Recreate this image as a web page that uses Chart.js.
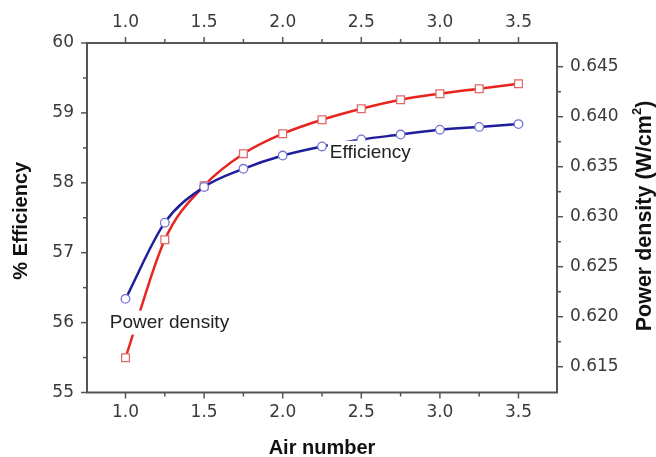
<!DOCTYPE html>
<html><head><meta charset="utf-8">
<script src="https://cdn.jsdelivr.net/npm/chart.js@4.4.0/dist/chart.umd.min.js"></script>
<style>html,body{margin:0;padding:0;background:#fff;}canvas{display:block;}</style>
</head><body>
<canvas id="c" width="656" height="457"></canvas>
<script>
// ---- data ----
const airNumber    = [1.0, 1.25, 1.5, 1.75, 2.0, 2.25, 2.5, 2.75, 3.0, 3.25, 3.5];
const efficiency   = [56.34, 57.43, 57.94, 58.20, 58.39, 58.52, 58.62, 58.69, 58.76, 58.80, 58.84];
const powerDensity = [0.6159, 0.6277, 0.6331, 0.6363, 0.6383, 0.6397, 0.6408, 0.6417, 0.6423, 0.6428, 0.6433];
const xTicks   = [1.0, 1.5, 2.0, 2.5, 3.0, 3.5];
const xMinor   = [1.25, 1.75, 2.25, 2.75, 3.25];
const effTicks = [55, 56, 57, 58, 59, 60];
const effMinor = [55.5, 56.5, 57.5, 58.5, 59.5];
const pdTicks  = [0.615, 0.620, 0.625, 0.630, 0.635, 0.640, 0.645];
const pdMinor  = [0.6175, 0.6225, 0.6275, 0.6325, 0.6375, 0.6425];
const xTitle = 'Air number';
const effTitle = '% Efficiency';
const pdTitle = 'Power density (W/cm';
const labels = [
  {text: 'Power density', x: 0.90, y: 56.0},
  {text: 'Efficiency', x: 2.30, y: 58.43}
];

// ---- style ----
const AXIS = '#555555';
const TICKCOL = '#3a3a3a';
const tickFont = {family: 'DejaVu Sans', size: 17};
const BLUE = '#1e1e9c', BLUE_PT = '#7474d4';
const RED = '#e8241e', RED_PT = '#e06a6a';

function fixTicks(arr) { return s => { s.ticks = arr.map(v => ({value: v})); }; }
const baseAxis = {
  type: 'linear',
  grid: {display: false, drawTicks: false},
  border: {display: false},
};

const annot = {
  id: 'annot',
  afterDatasetsDraw(chart) {
    const {ctx, scales} = chart;
    ctx.save();
    ctx.font = '19px "Liberation Sans", Arial, sans-serif';
    ctx.textBaseline = 'middle';
    ctx.textAlign = 'left';
    labels.forEach(l => {
      const px = scales.x.getPixelForValue(l.x);
      const py = scales.y.getPixelForValue(l.y);
      const w = ctx.measureText(l.text).width;
      ctx.fillStyle = '#fff';
      ctx.fillRect(px - 2, py - 12, w + 4, 24);
      ctx.fillStyle = '#222';
      ctx.fillText(l.text, px, py);
    });
    ctx.restore();
  },
  afterDraw(chart) {
    const {ctx, chartArea: a, scales} = chart;
    ctx.save();
    ctx.strokeStyle = AXIS;
    ctx.lineWidth = 2;
    ctx.strokeRect(a.left, a.top, a.right - a.left, a.bottom - a.top);
    ctx.lineWidth = 1.5;
    const line = (x1, y1, x2, y2) => { ctx.beginPath(); ctx.moveTo(x1, y1); ctx.lineTo(x2, y2); ctx.stroke(); };
    [[xTicks, 6], [xMinor, 4]].forEach(([arr, len]) => arr.forEach(v => {
      const p = scales.x.getPixelForValue(v);
      line(p, a.bottom, p, a.bottom + len);
      const q = scales.x2.getPixelForValue(v);
      line(q, a.top, q, a.top - len);
    }));
    [[effTicks, 6], [effMinor, 4]].forEach(([arr, len]) => arr.forEach(v => {
      const p = scales.y.getPixelForValue(v);
      line(a.left, p, a.left - len, p);
    }));
    [[pdTicks, 6], [pdMinor, 4]].forEach(([arr, len]) => arr.forEach(v => {
      const p = scales.y2.getPixelForValue(v);
      line(a.right, p, a.right + len, p);
    }));
    // titles
    ctx.fillStyle = '#111';
    ctx.font = 'bold 20px "Liberation Sans", Arial, sans-serif';
    ctx.textBaseline = 'middle';
    ctx.textAlign = 'center';
    ctx.fillText(xTitle, (a.left + a.right) / 2, 448);
    ctx.save();
    ctx.translate(21, (a.top + a.bottom) / 2 + 3);
    ctx.rotate(-Math.PI / 2);
    ctx.fillText(effTitle, 0, 0);
    ctx.restore();
    // right title with superscript
    const mainFont = 'bold 21.5px "Liberation Sans", Arial, sans-serif';
    const supFont = 'bold 13px "Liberation Sans", Arial, sans-serif';
    ctx.save();
    ctx.translate(645, 216);
    ctx.rotate(-Math.PI / 2);
    ctx.font = mainFont;
    const w1 = ctx.measureText(pdTitle).width;
    const w3 = ctx.measureText(')').width;
    ctx.font = supFont;
    const w2 = ctx.measureText('2').width;
    const tot = w1 + w2 + w3;
    ctx.textAlign = 'left';
    const x0 = -tot / 2;
    ctx.font = mainFont;
    ctx.fillText(pdTitle, x0, 0);
    ctx.fillText(')', x0 + w1 + w2, 0);
    ctx.font = supFont;
    ctx.fillText('2', x0 + w1, -8);
    ctx.restore();
    ctx.restore();
  }
};

new Chart(document.getElementById('c'), {
  type: 'line',
  data: {
    datasets: [
      {
        label: 'Efficiency',
        data: airNumber.map((x, i) => ({x, y: efficiency[i]})),
        xAxisID: 'x', yAxisID: 'y',
        borderColor: BLUE, borderWidth: 2.5,
        pointStyle: 'circle', pointRadius: 4.3, pointBorderWidth: 1.3,
        pointBorderColor: BLUE_PT, pointBackgroundColor: '#fff',
        cubicInterpolationMode: 'monotone', fill: false
      },
      {
        label: 'Power density',
        data: airNumber.map((x, i) => ({x, y: powerDensity[i]})),
        xAxisID: 'x', yAxisID: 'y2',
        borderColor: RED, borderWidth: 2.5,
        pointStyle: 'rect', pointRadius: 5.5, pointBorderWidth: 1.3,
        pointBorderColor: RED_PT, pointBackgroundColor: '#fff',
        cubicInterpolationMode: 'monotone', fill: false
      }
    ]
  },
  options: {
    responsive: false,
    animation: false,
    devicePixelRatio: 1,
    layout: {padding: 0},
    plugins: {legend: {display: false}, tooltip: {enabled: false}},
    scales: {
      x: Object.assign({}, baseAxis, {
        axis: 'x', position: 'bottom', min: 0.755, max: 3.745,
        afterBuildTicks: fixTicks(xTicks), afterFit: s => { s.height = 64.5; },
        ticks: {padding: 10, font: tickFont, color: TICKCOL, maxRotation: 0, autoSkip: false, callback: v => v.toFixed(1)}
      }),
      x2: Object.assign({}, baseAxis, {
        axis: 'x', position: 'top', min: 0.755, max: 3.745, display: true,
        afterBuildTicks: fixTicks(xTicks), afterFit: s => { s.height = 43; },
        ticks: {padding: 10, font: tickFont, color: TICKCOL, maxRotation: 0, autoSkip: false, callback: v => v.toFixed(1)}
      }),
      y: Object.assign({}, baseAxis, {
        axis: 'y', position: 'left', min: 55, max: 60,
        afterBuildTicks: fixTicks(effTicks), afterFit: s => { s.width = 87; },
        ticks: {padding: 13, font: tickFont, color: TICKCOL, autoSkip: false, callback: v => String(v)}
      }),
      y2: Object.assign({}, baseAxis, {
        axis: 'y', position: 'right', min: 0.61242, max: 0.64737,
        afterBuildTicks: fixTicks(pdTicks), afterFit: s => { s.width = 99; },
        ticks: {padding: 13, font: tickFont, color: TICKCOL, autoSkip: false, callback: v => v.toFixed(3)}
      })
    }
  },
  plugins: [annot]
});
</script>
</body></html>
